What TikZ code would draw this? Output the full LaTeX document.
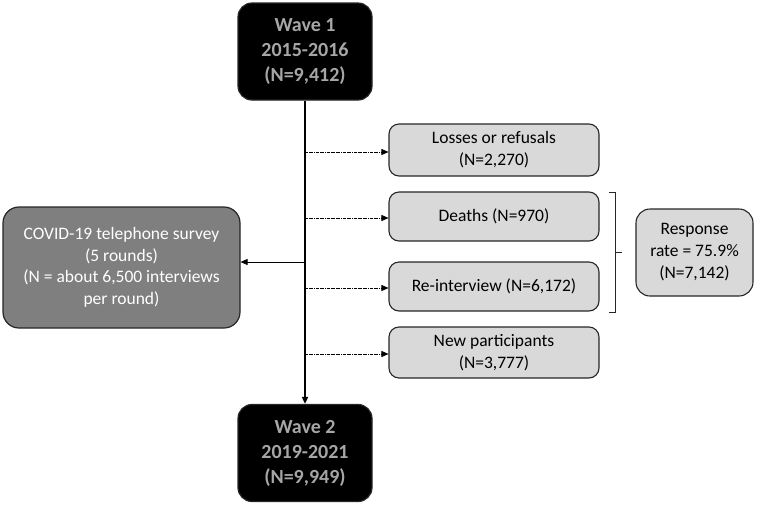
\documentclass[tikz,border=0pt]{standalone}
\usepackage{fontspec}
\setmainfont{Carlito}
\usetikzlibrary{arrows.meta}

\definecolor{wavetext}{RGB}{166,166,166}
\definecolor{covidfill}{RGB}{127,127,127}
\definecolor{boxfill}{RGB}{217,217,217}
\definecolor{boxline}{RGB}{38,38,38}

\begin{document}
\begin{tikzpicture}[x = 1pt, y = -1pt,
    wavebox/.style = {draw = boxline, fill = black, rounded corners = 14pt, line width = 1.2pt,
        minimum width = 134pt, minimum height = 97pt, inner sep = 0pt, align = center,
        text = wavetext, font = \fontsize{20}{25}\selectfont\bfseries},
    outbox/.style = {draw = boxline, fill = boxfill, rounded corners = 10pt, line width = 1.1pt,
        minimum width = 210pt, inner sep = 0pt, align = center,
        font = \fontsize{17.5}{22}\selectfont},
    flow/.style = {-{Triangle[length = 7pt, width = 6pt]}},
    side/.style = {flow, densely dash dot, line width = 0.6pt}]
    % \draw[style = help lines, step = 20] (0,0) grid (760,507);
    \useasboundingbox (0,0) rectangle (760,507);

    \node[wavebox] (wave1) at (305, 51.5) {Wave 1\\2015-2016\\(N=9,412)};
    \node[wavebox] (wave2) at (305, 453) {Wave 2\\2019-2021\\(N=9,949)};

    \node[outbox, minimum height = 52pt] (losses) at (494, 150) {Losses or refusals\\(N=2,270)};
    \node[outbox, minimum height = 49pt] (deaths) at (494, 216.5) {Deaths (N=970)};
    \node[outbox, minimum height = 49pt] (reint) at (494, 286.5) {Re-interview (N=6,172)};
    \node[outbox, minimum height = 51pt] (newpart) at (494, 352.5) {New participants\\(N=3,777)};

    \node[draw = boxline, fill = covidfill, rounded corners = 16pt, line width = 1.2pt,
        minimum width = 237pt, minimum height = 121pt, inner sep = 0pt, align = center,
        text = white, font = \fontsize{17.5}{21.5}\selectfont] (covid) at (121.5, 267.5)
        {COVID-19 telephone survey\\(5 rounds)\\(N = about 6,500 interviews\\per round)};

    \node[outbox, minimum width = 117pt, minimum height = 87pt, rounded corners = 14pt] (resp) at (694.5, 252.5)
        {Response\\rate = 75.9\%\\(N=7,142)};

    \draw[flow, line width = 1.6pt] (wave1) -- (wave2);
    \draw[flow, line width = 0.8pt] (wave1 |- 0,262) -- ([yshift = 5.5pt]covid.east);

    \draw[side] (wave1 |- 0,152) -- ([yshift = -2pt]losses.west);
    \draw[side] (wave1 |- 0,218) -- ([yshift = -1.5pt]deaths.west);
    \draw[side] (wave1 |- 0,288) -- ([yshift = -1.5pt]reint.west);
    \draw[side] (wave1 |- 0,354) -- ([yshift = -1.5pt]newpart.west);

    \draw[line width = 0.8pt, boxline] (609, 192) -- (615, 192) -- (615, 312) -- (609, 312);
    \draw[line width = 0.8pt, boxline] (615, 252) -- (622, 252);
\end{tikzpicture}
\end{document}
